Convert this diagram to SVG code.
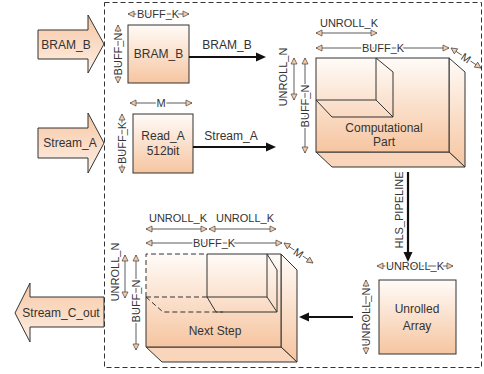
<svg xmlns="http://www.w3.org/2000/svg" width="484" height="374" viewBox="0 0 484 374">
  <defs>
    <linearGradient id="gBox" x1="0" y1="0" x2="0" y2="1">
      <stop offset="0" stop-color="#fffbf8"/>
      <stop offset="1" stop-color="#f6c5a0"/>
    </linearGradient>
    <linearGradient id="gArrow" x1="0" y1="0" x2="0" y2="1">
      <stop offset="0" stop-color="#f7c7a3"/>
      <stop offset="1" stop-color="#fdf0e6"/>
    </linearGradient>
    <marker id="dim" markerUnits="userSpaceOnUse" markerWidth="8" markerHeight="8" viewBox="-1 -1 8 8" refX="6" refY="3" orient="auto-start-reverse">
      <path d="M0,0 L6,3 L0,6 Z" fill="#f8cba8" stroke="#444" stroke-width="0.7"/>
    </marker>
    <marker id="arr" markerUnits="userSpaceOnUse" markerWidth="11" markerHeight="10" viewBox="0 0 11 10" refX="2" refY="5" orient="auto">
      <path d="M0,0.5 L10,5 L0,9.5 Z" fill="#111"/>
    </marker>
    <style>
      .edge { fill: none; stroke: #333; stroke-width: 1; }
      .dash { fill: none; stroke: #333; stroke-width: 1; stroke-dasharray: 5 3; }
      .box { fill: url(#gBox); stroke: #333; stroke-width: 1; }
      .face { fill: url(#gBox); stroke: #333; stroke-width: 1; }
      .floor { fill: #f9d6bb; stroke: #333; stroke-width: 1; }
      .big { fill: url(#gArrow); stroke: #333; stroke-width: 1; }
      .dl { fill: none; stroke: #333; stroke-width: 0.8; marker-start: url(#dim); marker-end: url(#dim); }
      .conn { fill: none; stroke: #111; stroke-width: 2.2; marker-end: url(#arr); }
      text { font-family: "Liberation Sans", Arial, sans-serif; fill: #333; }
      .t { font-size: 12px; text-anchor: middle; dominant-baseline: central; }
      .d { font-size: 11px; text-anchor: middle; dominant-baseline: central; stroke: #fff; stroke-width: 3; paint-order: stroke; stroke-linejoin: round; }
      .c { font-size: 11px; text-anchor: middle; dominant-baseline: central; }
    </style>
  </defs>

  <rect width="484" height="374" fill="#fff"/>

  <!-- accelerator boundary -->
  <g id="boundary">
    <rect x="104.5" y="2.5" width="377" height="365" class="dash"/>
  </g>

  <!-- external inputs / output -->
  <g id="in-bram-b">
    <polygon class="big" points="38,30 88,30 88,15 104,44 88,73 88,59 38,59"/>
    <text class="t" x="66" y="45">BRAM_B</text>
  </g>
  <g id="in-stream-a">
    <polygon class="big" points="38,128 88,128 88,113 104,143 88,173 88,158 38,158"/>
    <text class="t" x="70" y="143">Stream_A</text>
  </g>
  <g id="out-stream-c">
    <polygon class="big" points="104,297 30,297 30,283 15,313 30,342 30,327 104,327"/>
    <text class="t" x="61" y="313">Stream_C_out</text>
  </g>

  <!-- BRAM_B buffer -->
  <g id="bram-b">
    <rect class="box" x="128" y="25" width="61" height="58"/>
    <text class="t" x="158.5" y="54">BRAM_B</text>
    <line class="dl" x1="128" y1="14" x2="189" y2="14"/>
    <text class="d" x="158" y="14">BUFF_K</text>
    <line class="dl" x1="118" y1="25" x2="118" y2="83"/>
    <text class="d" x="118" y="54" transform="rotate(-90 118 54)">BUFF_N</text>
  </g>

  <!-- Read_A buffer -->
  <g id="read-a">
    <rect class="box" x="133" y="114" width="60" height="59"/>
    <text class="t" x="163" y="136">Read_A</text>
    <text class="t" x="163" y="151">512bit</text>
    <line class="dl" x1="130" y1="103" x2="192" y2="103"/>
    <text class="d" x="161" y="103">M</text>
    <line class="dl" x1="122" y1="114" x2="122" y2="173"/>
    <text class="d" x="122" y="143" transform="rotate(-90 122 143)">BUFF_K</text>
  </g>

  <!-- Computational part block -->
  <g id="computational-part">
    <polygon class="face" points="449,58 465,72 465,167 449,152"/>
    <polygon class="floor" points="316,152 449,152 465,167 332,167"/>
    <rect class="box" x="316" y="58" width="133" height="94"/>
    <path class="edge" d="M376,58 V100 H316 M376,58 L393,72 V117 H332 L316,100 M376,100 L393,117"/>
    <text class="t" x="384" y="128">Computational</text>
    <text class="t" x="384" y="142">Part</text>
    <text class="c" x="349" y="23">UNROLL_K</text>
    <line class="dl" x1="316" y1="33" x2="377" y2="33"/>
    <line class="dl" x1="316" y1="48" x2="449" y2="48"/>
    <text class="d" x="383" y="48">BUFF_K</text>
    <line class="dl" x1="451" y1="48" x2="481" y2="68"/>
    <text class="d" x="466" y="58" transform="rotate(34 466 58)">M</text>
    <text class="c" x="283" y="77" transform="rotate(-90 283 77)">UNROLL_N</text>
    <line class="dl" x1="294" y1="58" x2="294" y2="100"/>
    <line class="dl" x1="305" y1="58" x2="305" y2="153"/>
    <text class="d" x="305" y="106" transform="rotate(-90 305 106)">BUFF_N</text>
  </g>

  <!-- Unrolled array -->
  <g id="unrolled-array">
    <rect class="box" x="379" y="280" width="77" height="74"/>
    <text class="t" x="417" y="309">Unrolled</text>
    <text class="t" x="417" y="326">Array</text>
    <line class="dl" x1="377" y1="266" x2="453" y2="266"/>
    <text class="d" x="415" y="266">UNROLL_K</text>
    <line class="dl" x1="366" y1="280" x2="366" y2="354"/>
    <text class="d" x="366" y="317" transform="rotate(-90 366 317)">UNROLL_N</text>
  </g>

  <!-- Next step block -->
  <g id="next-step">
    <polygon class="face" points="281,254 297,270 297,362 281,347"/>
    <polygon class="floor" points="146,347 281,347 297,362 162,362"/>
    <rect x="146" y="254" width="135" height="93" fill="url(#gBox)"/>
    <path class="edge" d="M207,254 H281 V347 H146 V297"/>
    <path class="dash" d="M146,297 V254 H207 M146,297 H207 M146,297 L163,312 H223"/>
    <path class="edge" d="M207,254 V297 H267 V254 M267,254 L277,270 V312 H216 L207,297 M267,297 L277,312"/>
    <text class="t" x="215" y="331">Next Step</text>
    <text class="c" x="178" y="218">UNROLL_K</text>
    <text class="c" x="245" y="218">UNROLL_K</text>
    <line class="dl" x1="146" y1="229" x2="207" y2="229"/>
    <line class="dl" x1="209" y1="229" x2="276" y2="229"/>
    <line class="dl" x1="146" y1="243" x2="282" y2="243"/>
    <text class="d" x="214" y="243">BUFF_K</text>
    <line class="dl" x1="284" y1="243" x2="313" y2="263"/>
    <text class="d" x="298.5" y="253" transform="rotate(34 298.5 253)">M</text>
    <text class="c" x="115" y="272" transform="rotate(-90 115 272)">UNROLL_N</text>
    <line class="dl" x1="125" y1="255" x2="125" y2="298"/>
    <line class="dl" x1="136" y1="255" x2="136" y2="350"/>
    <text class="d" x="136" y="301" transform="rotate(-90 136 301)">BUFF_N</text>
  </g>

  <!-- data-flow connectors -->
  <g id="connectors">
    <line class="conn" x1="189" y1="57" x2="258" y2="57"/>
    <text class="t" x="227" y="45">BRAM_B</text>
    <line class="conn" x1="193" y1="147" x2="268" y2="147"/>
    <text class="t" x="231" y="136">Stream_A</text>
    <line class="conn" x1="408" y1="172" x2="408" y2="254"/>
    <text class="c" x="399" y="210" transform="rotate(-90 399 210)">HLS_PIPELINE</text>
    <line class="conn" x1="353" y1="317" x2="307" y2="317"/>
  </g>
</svg>
